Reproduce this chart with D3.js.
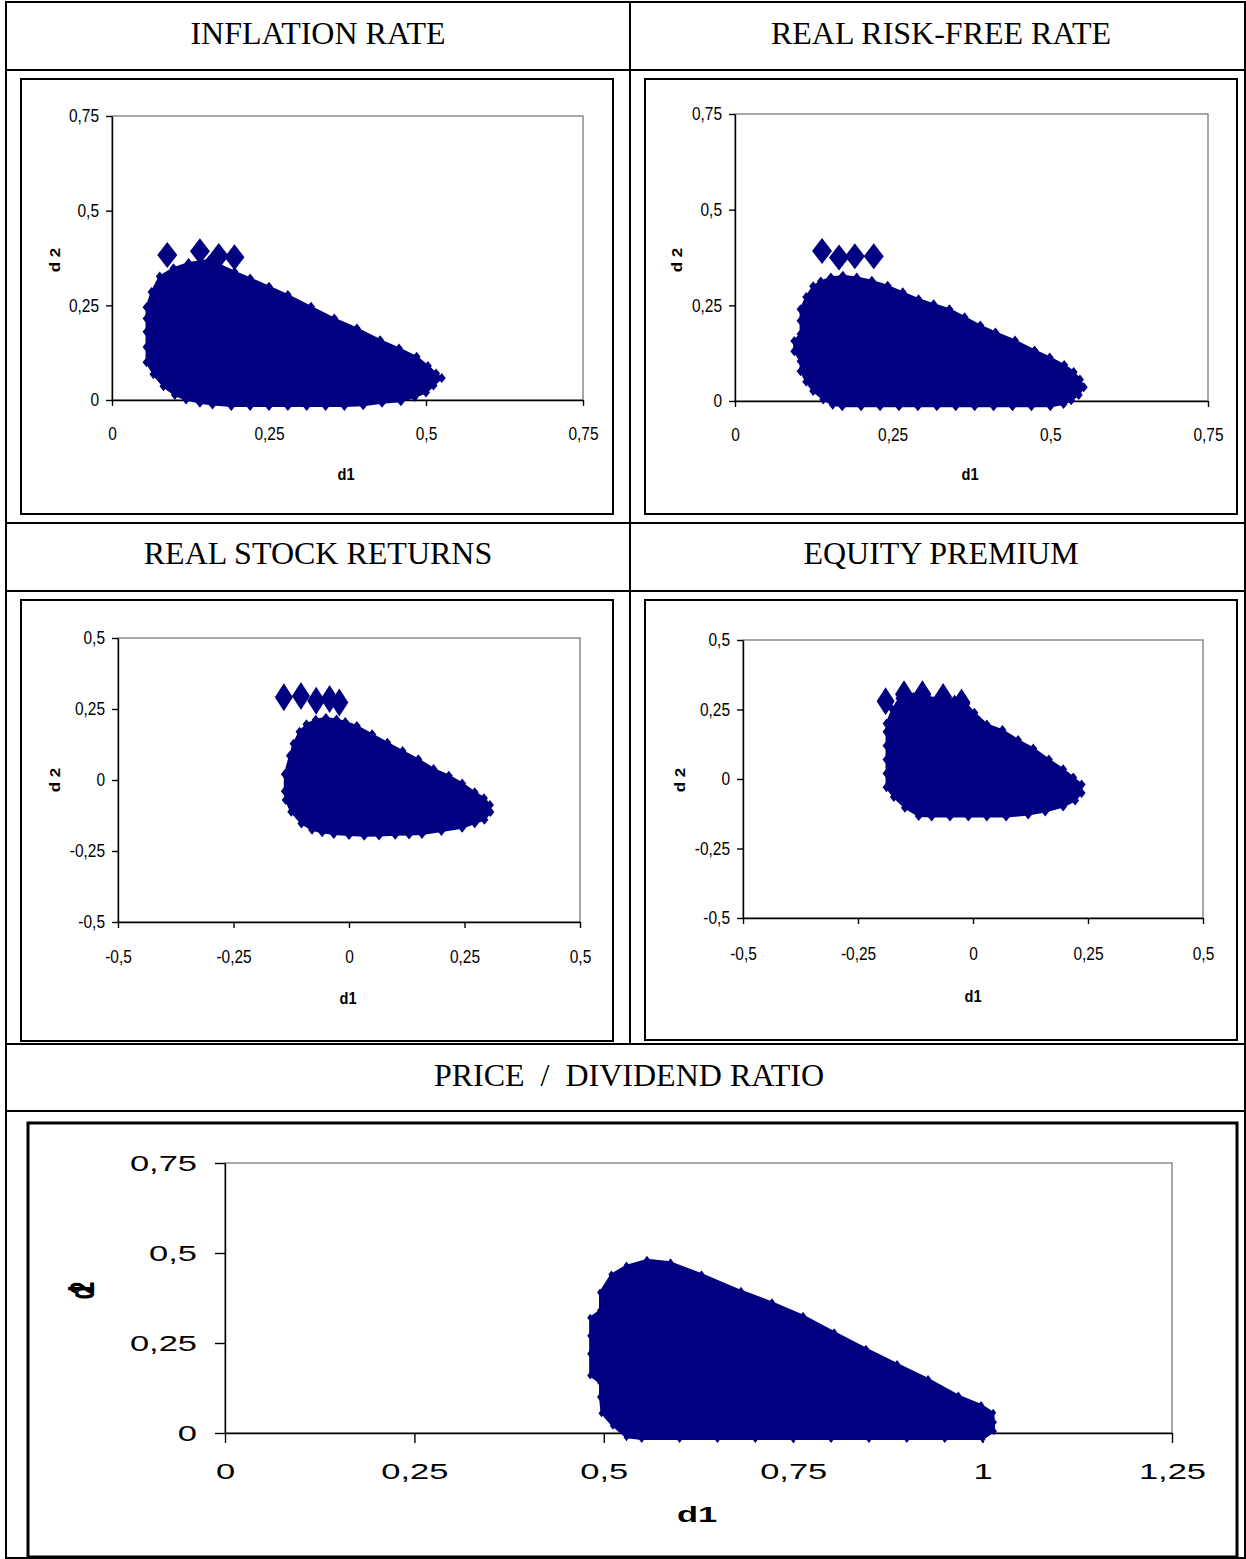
<!DOCTYPE html>
<html>
<head>
<meta charset="utf-8">
<script src="https://cdn.jsdelivr.net/npm/d3@7"></script>
<style>
  body { margin: 0; background: #fff; }
  svg { display: block; }
  .cell_title { font-family: "Liberation Serif", "Times New Roman", serif; font-size: 32px; white-space: pre; }
  .tick text { font-family: "Liberation Sans", Arial, sans-serif; fill: #000; }
  .axis_title { font-family: "Liberation Sans", Arial, sans-serif; font-weight: bold; }
</style>
</head>
<body>
<div id="chart"></div>
<script>
// ---------- data ----------
const titles = ['INFLATION RATE', 'REAL RISK-FREE RATE', 'REAL STOCK RETURNS',
                'EQUITY PREMIUM', 'PRICE  /  DIVIDEND RATIO'];
const ticksPos = [0, 0.25, 0.5, 0.75];
const ticksSym = [-0.5, -0.25, 0, 0.25, 0.5];
const ticksPD  = [0, 0.25, 0.5, 0.75, 1, 1.25];

// outline of each cloud of (d1, d2) markers, centres of the outer markers, clockwise
const inflationEdge = [[0.055,0.14],[0.055,0.18],[0.055,0.215],[0.055,0.245],[0.063,0.285],[0.076,0.326],
  [0.098,0.348],[0.122,0.362],[0.155,0.370],[0.195,0.339],[0.22,0.321],[0.25,0.299],[0.28,0.277],
  [0.317,0.246],[0.354,0.215],[0.39,0.189],[0.427,0.158],[0.457,0.136],[0.485,0.114],[0.503,0.090],
  [0.516,0.070],[0.525,0.058],[0.512,0.038],[0.500,0.020],[0.482,0.008],[0.46,-0.003],[0.43,-0.007],
  [0.40,-0.014],[0.37,-0.016],[0.34,-0.016],[0.31,-0.016],[0.28,-0.016],[0.25,-0.016],[0.22,-0.016],
  [0.19,-0.016],[0.16,-0.012],[0.14,-0.007],[0.118,0.001],[0.10,0.013],[0.082,0.036],[0.066,0.068],
  [0.055,0.10]];
const inflationStray = [[0.088,0.383],[0.140,0.393],[0.170,0.380],[0.195,0.377]];

const riskFreeEdge = [[0.104,0.21],[0.104,0.24],[0.113,0.272],[0.124,0.30],[0.136,0.312],[0.152,0.323],
  [0.171,0.327],[0.193,0.323],[0.217,0.314],[0.242,0.301],[0.266,0.284],[0.291,0.266],[0.315,0.253],
  [0.34,0.240],[0.364,0.219],[0.389,0.197],[0.413,0.179],[0.444,0.158],[0.475,0.132],[0.499,0.114],
  [0.522,0.094],[0.537,0.076],[0.547,0.056],[0.553,0.036],[0.545,0.016],[0.533,0.002],[0.521,-0.008],
  [0.50,-0.014],[0.47,-0.014],[0.44,-0.014],[0.41,-0.014],[0.38,-0.014],[0.35,-0.014],[0.32,-0.014],
  [0.29,-0.014],[0.26,-0.014],[0.23,-0.014],[0.20,-0.014],[0.17,-0.014],[0.155,-0.010],[0.14,0.004],
  [0.124,0.026],[0.113,0.050],[0.104,0.078],[0.104,0.104],[0.094,0.13],[0.094,0.157],[0.104,0.175]];
const riskFreeStray = [[0.138,0.392],[0.165,0.375],[0.190,0.378],[0.220,0.378]];

const stockEdge = [[-0.139,0.02],[-0.128,0.085],[-0.12,0.128],[-0.107,0.170],[-0.092,0.196],[-0.072,0.212],
  [-0.05,0.218],[-0.027,0.213],[-0.008,0.204],[0.017,0.190],[0.05,0.161],[0.083,0.131],[0.116,0.102],
  [0.15,0.073],[0.183,0.039],[0.216,0.015],[0.245,-0.012],[0.272,-0.043],[0.292,-0.064],[0.305,-0.088],
  [0.306,-0.113],[0.293,-0.140],[0.272,-0.152],[0.245,-0.168],[0.20,-0.180],[0.158,-0.190],[0.13,-0.192],
  [0.10,-0.193],[0.065,-0.195],[0.033,-0.196],[0.0,-0.194],[-0.033,-0.190],[-0.058,-0.184],[-0.08,-0.175],
  [-0.103,-0.153],[-0.125,-0.112],[-0.137,-0.070],[-0.139,-0.04]];
const stockStray = [[-0.141,0.291],[-0.104,0.296],[-0.071,0.279],[-0.042,0.285],[-0.021,0.273]];

const equityEdge = [[-0.188,-0.03],[-0.188,0.02],[-0.188,0.07],[-0.188,0.12],[-0.188,0.17],[-0.188,0.20],
  [-0.175,0.25],[-0.16,0.29],[-0.13,0.295],[-0.10,0.295],[-0.07,0.29],[-0.04,0.285],[-0.015,0.27],
  [0.003,0.238],[0.03,0.196],[0.064,0.176],[0.098,0.140],[0.131,0.110],[0.165,0.070],[0.196,0.035],
  [0.218,0.005],[0.236,-0.02],[0.236,-0.05],[0.222,-0.077],[0.196,-0.099],[0.157,-0.117],[0.12,-0.128],
  [0.072,-0.135],[0.03,-0.135],[-0.01,-0.135],[-0.05,-0.135],[-0.09,-0.135],[-0.118,-0.133],
  [-0.148,-0.103],[-0.172,-0.065]];
const equityStray = [[-0.19,0.28],[-0.15,0.305],[-0.11,0.305],[-0.065,0.295],[-0.025,0.275]];

const priceDivEdge = [[0.482,0.16],[0.482,0.22],[0.482,0.27],[0.482,0.32],[0.495,0.34],[0.495,0.39],
  [0.51,0.44],[0.53,0.465],[0.557,0.481],[0.588,0.474],[0.629,0.441],[0.681,0.395],[0.722,0.363],
  [0.763,0.326],[0.804,0.28],[0.846,0.234],[0.887,0.192],[0.928,0.150],[0.968,0.104],[0.998,0.078],
  [1.014,0.056],[1.015,0.03],[1.015,0.005],[1.0,-0.017],[0.95,-0.017],[0.90,-0.017],[0.85,-0.017],
  [0.80,-0.017],[0.75,-0.017],[0.70,-0.017],[0.65,-0.017],[0.60,-0.017],[0.55,-0.017],[0.53,-0.012],
  [0.512,0.02],[0.497,0.055],[0.495,0.10],[0.495,0.14]];
const priceDivStray = [];

// ---------- drawing ----------
const NAVY = '#000080';
const fmt = d3.formatLocale({decimal: ',', thousands: '.', grouping: [3],
                             currency: ['', ''], minus: '-'}).format('~g');
const diamond = (w, h) => `M0,${-h}L${w},0L0,${h}L${-w},0Z`;

const W = 1246, H = 1559;
const svg = d3.select('#chart').append('svg').attr('width', W).attr('height', H);

class ScatterPanel {
    cfg; g; scaleX; scaleY;

    /* cfg: box [x,y,w,h], plot [left,top,right,bottom], domains, ticks,
       font size + horizontal stretch of the text, label spots, marker half sizes */
    constructor(svg, cfg){
        this.cfg = cfg;
        this.g = svg.append('g');
        this.scaleX = d3.scaleLinear(cfg.xDomain, [cfg.plot[0], cfg.plot[2]]);
        this.scaleY = d3.scaleLinear(cfg.yDomain, [cfg.plot[3], cfg.plot[1]]);
    }

    #drawFrame(){
        const c = this.cfg;
        this.g.append('rect')
            .attr('x', c.box[0]).attr('y', c.box[1])
            .attr('width', c.box[2]).attr('height', c.box[3])
            .attr('fill', '#fff').attr('stroke', '#000').attr('stroke-width', c.boxStroke);
        // grey plot-area border (top/right show)
        this.g.append('rect')
            .attr('x', c.plot[0]).attr('y', c.plot[1])
            .attr('width', c.plot[2] - c.plot[0]).attr('height', c.plot[3] - c.plot[1])
            .attr('fill', 'none').attr('stroke', '#8c8c8c').attr('stroke-width', 1.5);
    }

    #drawAxes(){
        const c = this.cfg;
        let axisGenX = d3.axisBottom(this.scaleX).tickValues(c.xTicks).tickFormat(fmt)
                .tickSize(c.tick).tickSizeOuter(0).tickPadding(c.padX),
            axisGenY = d3.axisLeft(this.scaleY).tickValues(c.yTicks).tickFormat(fmt)
                .tickSize(c.tick).tickSizeOuter(0).tickPadding(c.padY);

        const gx = this.g.append('g')
            .attr('transform', `translate(0,${c.plot[3]})`)
            .call(axisGenX);
        gx.selectAll('text')
            .attr('font-size', c.font)
            .attr('transform', `scale(${c.sx},1)`);

        const gy = this.g.append('g')
            .attr('transform', `translate(${c.plot[0]},0)`)
            .call(axisGenY);
        gy.selectAll('text')
            .attr('font-size', c.font)
            .attr('x', -(c.tick + c.padY) / c.sx)
            .attr('transform', `scale(${c.sx},1)`);

        [gx, gy].forEach(a => {
            a.selectAll('path, line').attr('stroke', '#000').attr('stroke-width', 1.4);
        });

        this.g.append('text')
            .classed('axis_title', true)
            .attr('font-size', c.titleFont)
            .attr('text-anchor', 'middle')
            .attr('dy', '0.35em')
            .attr('transform', `translate(${c.labelX[0]},${c.labelX[1]}) scale(${c.sx},1)`)
            .text('d1');
        this.g.append('text')
            .classed('axis_title', true)
            .attr('font-size', c.titleFont)
            .attr('text-anchor', 'middle')
            .attr('dy', '0.35em')
            .attr('letter-spacing', c.ySpacing)
            .attr('transform', `translate(${c.labelY[0]},${c.labelY[1]}) scale(${c.sx},1) rotate(-90)`)
            .text(c.yText);
    }

    #drawCloud(edge, stray){
        const c = this.cfg;
        const outline = d3.line()
            .x(d => this.scaleX(d[0]))
            .y(d => this.scaleY(d[1]))
            .curve(d3.curveLinearClosed);

        this.g.append('path')
            .datum(edge)
            .attr('d', outline)
            .attr('fill', NAVY)
            .attr('stroke', NAVY)
            .attr('stroke-width', 2)
            .attr('stroke-linejoin', 'round');

        this.g.selectAll('path.edge')
            .data(edge)
            .join('path')
            .classed('edge', true)
            .attr('transform', d => `translate(${this.scaleX(d[0])},${this.scaleY(d[1])})`)
            .attr('d', diamond(c.mark[0], c.mark[1]))
            .attr('fill', NAVY);

        this.g.selectAll('path.stray')
            .data(stray)
            .join('path')
            .classed('stray', true)
            .attr('transform', d => `translate(${this.scaleX(d[0])},${this.scaleY(d[1])})`)
            .attr('d', diamond(c.strayMark[0], c.strayMark[1]))
            .attr('fill', NAVY);
    }

    render(edge, stray){
        this.#drawFrame();
        this.#drawAxes();
        this.#drawCloud(edge, stray);
        return this;
    }
}

// ---- table grid + cell titles ----
const grid = svg.append('g').attr('stroke', '#000').attr('stroke-width', 2);
[2, 70, 523, 591, 1044, 1111, 1558].forEach(y =>
    grid.append('line').attr('x1', 5).attr('x2', 1246).attr('y1', y).attr('y2', y));
grid.append('line').attr('x1', 6).attr('x2', 6).attr('y1', 1).attr('y2', 1559);
grid.append('line').attr('x1', 1245).attr('x2', 1245).attr('y1', 1).attr('y2', 1559);
grid.append('line').attr('x1', 630).attr('x2', 630).attr('y1', 1).attr('y2', 1044);

const titleSpots = [[318, 44], [941, 44], [318, 564], [941, 564], [629, 1086]];
svg.selectAll('text.cell_title')
    .data(titles)
    .join('text')
    .classed('cell_title', true)
    .attr('x', (d, i) => titleSpots[i][0])
    .attr('y', (d, i) => titleSpots[i][1])
    .attr('text-anchor', 'middle')
    .text(d => d);

// ---- the five panels ----
const small = {tick: 6, padY: 7, font: 18, titleFont: 17, sx: 0.86, mark: [4, 5],
               boxStroke: 2, yText: 'd 2', ySpacing: 0};

new ScatterPanel(svg, {...small, box: [21, 79, 592, 435], plot: [112, 116, 583, 400],
    xDomain: [0, 0.75], yDomain: [0, 0.75], xTicks: ticksPos, yTicks: ticksPos,
    padX: 21, labelX: [346, 474], labelY: [55, 260], strayMark: [10, 13]})
    .render(inflationEdge, inflationStray);

new ScatterPanel(svg, {...small, box: [645, 79, 592, 435], plot: [735, 114, 1208, 401],
    xDomain: [0, 0.75], yDomain: [0, 0.75], xTicks: ticksPos, yTicks: ticksPos,
    padX: 21, labelX: [970, 474], labelY: [677, 260], strayMark: [10, 13]})
    .render(riskFreeEdge, riskFreeStray);

new ScatterPanel(svg, {...small, box: [21, 600, 592, 441], plot: [118, 638, 580, 922],
    xDomain: [-0.5, 0.5], yDomain: [-0.5, 0.5], xTicks: ticksSym, yTicks: ticksSym,
    padX: 22, labelX: [348, 998], labelY: [55, 780], strayMark: [9, 14]})
    .render(stockEdge, stockStray);

new ScatterPanel(svg, {...small, box: [645, 600, 592, 440], plot: [743, 640, 1203, 918],
    xDomain: [-0.5, 0.5], yDomain: [-0.5, 0.5], xTicks: ticksSym, yTicks: ticksSym,
    padX: 23, labelX: [973, 996], labelY: [680, 780], strayMark: [9, 14]})
    .render(equityEdge, equityStray);

new ScatterPanel(svg, {tick: 10, padY: 18, font: 23, titleFont: 23, sx: 1.5, mark: [3, 4],
    boxStroke: 3, yText: 'd2', ySpacing: -9,
    box: [28, 1123, 1209, 434], plot: [225, 1163, 1172, 1433],
    xDomain: [0, 1.25], yDomain: [0, 0.75], xTicks: ticksPD, yTicks: ticksPos,
    padX: 20, labelX: [697, 1514], labelY: [82, 1295], strayMark: [3, 4]})
    .render(priceDivEdge, priceDivStray);
</script>
</body>
</html>
